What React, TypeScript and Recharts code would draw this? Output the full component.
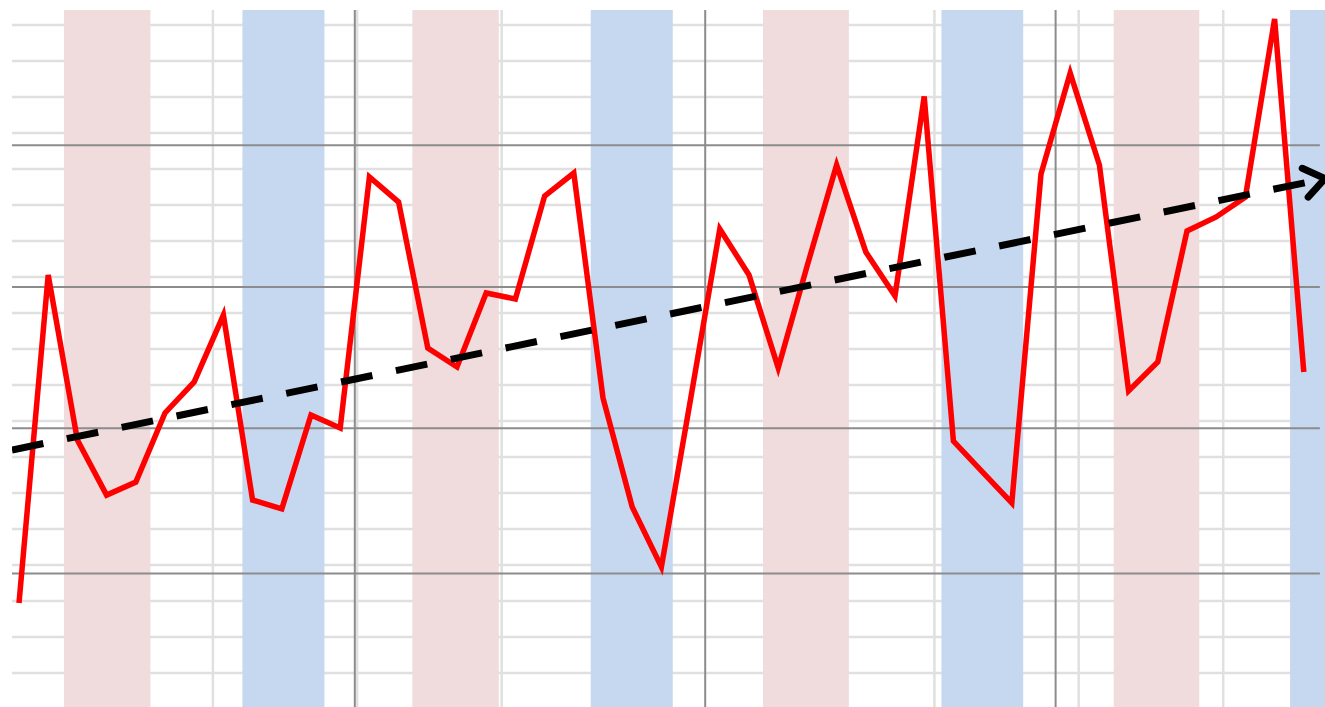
import {CartesianGrid, Line, LineChart, ReferenceArea, ReferenceLine, XAxis, YAxis} from 'recharts';

// monthly values, index 0..44
const values = [
  7.97, 30.91, 19.37, 15.52, 16.43, 21.26, 23.43, 28.11, 15.17, 14.55, 21.12, 20.21,
  37.76, 36.01, 25.8, 24.48, 29.65, 29.23, 36.43, 38.04, 22.31, 14.69, 10.49, 22.24,
  34.13, 30.91, 24.41, 31.61, 38.6, 32.52, 29.44, 43.39, 19.3, 17.13, 14.97, 37.97,
  45.03, 38.6, 22.8, 24.83, 33.99, 34.97, 36.36, 48.81, 24.13,
];

const X_MIN = -0.24;
const X_MAX = 44.726;
const Y_MIN = 0.7;
const Y_MAX = 49.44;

const pinkBands = [
  [1.54, 4.5],
  [13.47, 16.43],
  [25.48, 28.42],
  [37.49, 40.42],
];
const blueBands = [
  [7.65, 10.46],
  [19.58, 22.39],
  [31.59, 34.39],
  [43.53, X_MAX],
];

const majorX = [11.5, 23.5, 35.5];
const majorY = [10.03, 20.19, 30.07, 39.98];
const majorYEnd = 44.55;

const minorX = [1.71, 6.64, 11.58, 16.53, 21.47, 26.41, 31.35, 36.29, 41.24];
const minorY = [
  48.39, 45.87, 43.36, 40.84, 38.32, 35.8, 33.29, 30.77, 28.25, 25.73,
  23.22, 20.7, 18.18, 15.66, 13.15, 10.63, 8.11, 5.59, 3.08,
];

const trendX = [X_MIN, X_MAX];
const trendY = [18.67, 37.65];

const points = values.map((y, x) => ({x, y}));
const trend = trendX.map((x, i) => ({x, y: trendY[i]}));

const ARROW_LEN = 25;
const ARROW_SPREAD = (36 * Math.PI) / 180;
const ARROW_BACK = (168.3 * Math.PI) / 180;

function ArrowHead(props: any) {
  const {cx, cy, index} = props;
  if (index !== trend.length - 1 || cx == null || cy == null) return <g key={`d${index}`} />;
  const a1 = ARROW_BACK - ARROW_SPREAD;
  const a2 = ARROW_BACK + ARROW_SPREAD;
  const p1 = `${cx + ARROW_LEN * Math.cos(a1)},${cy + ARROW_LEN * Math.sin(a1)}`;
  const p2 = `${cx + ARROW_LEN * Math.cos(a2)},${cy + ARROW_LEN * Math.sin(a2)}`;
  return (
    <polyline
      key={`d${index}`}
      points={`${p1} ${cx},${cy} ${p2}`}
      fill="none"
      stroke="#000"
      strokeWidth={7}
      strokeLinecap="round"
      strokeLinejoin="round"
    />
  );
}

export default function App() {
  return (
    <div style={{position: 'absolute', left: 0, top: 0, width: 1325, height: 707, overflow: 'hidden', background: '#fff'}}>
      <LineChart width={1325} height={707} data={points} margin={{top: 10, right: 0, bottom: 0, left: 12}}>
        <CartesianGrid stroke="#e0e0e0" strokeWidth={2.5} horizontalValues={minorY} verticalValues={minorX} />
        <XAxis type="number" dataKey="x" domain={[X_MIN, X_MAX]} allowDataOverflow hide />
        <YAxis type="number" domain={[Y_MIN, Y_MAX]} allowDataOverflow hide />
        {pinkBands.map(([a, b]) => (
          <ReferenceArea key={`p${a}`} x1={a} x2={b} fill="#f0dcdc" fillOpacity={1} stroke="none" zIndex={100} />
        ))}
        {blueBands.map(([a, b]) => (
          <ReferenceArea key={`b${a}`} x1={a} x2={b} fill="#c6d8ef" fillOpacity={1} stroke="none" zIndex={100} />
        ))}
        {majorY.map((v) => (
          <ReferenceLine
            key={`my${v}`}
            segment={[{x: X_MIN, y: v}, {x: majorYEnd, y: v}]}
            stroke="#8c8c8c"
            strokeWidth={2}
            zIndex={150}
          />
        ))}
        {majorX.map((v) => (
          <ReferenceLine key={`mx${v}`} x={v} stroke="#8c8c8c" strokeWidth={2} zIndex={150} />
        ))}
        <Line
          dataKey="y"
          type="linear"
          stroke="#ff0000"
          strokeWidth={5.5}
          dot={false}
          activeDot={false}
          isAnimationActive={false}
          zIndex={400}
        />
        <Line
          data={trend}
          dataKey="y"
          type="linear"
          stroke="#000"
          strokeWidth={7}
          strokeDasharray="32 24"
          dot={ArrowHead}
          activeDot={false}
          isAnimationActive={false}
          zIndex={450}
        />
      </LineChart>
    </div>
  );
}
